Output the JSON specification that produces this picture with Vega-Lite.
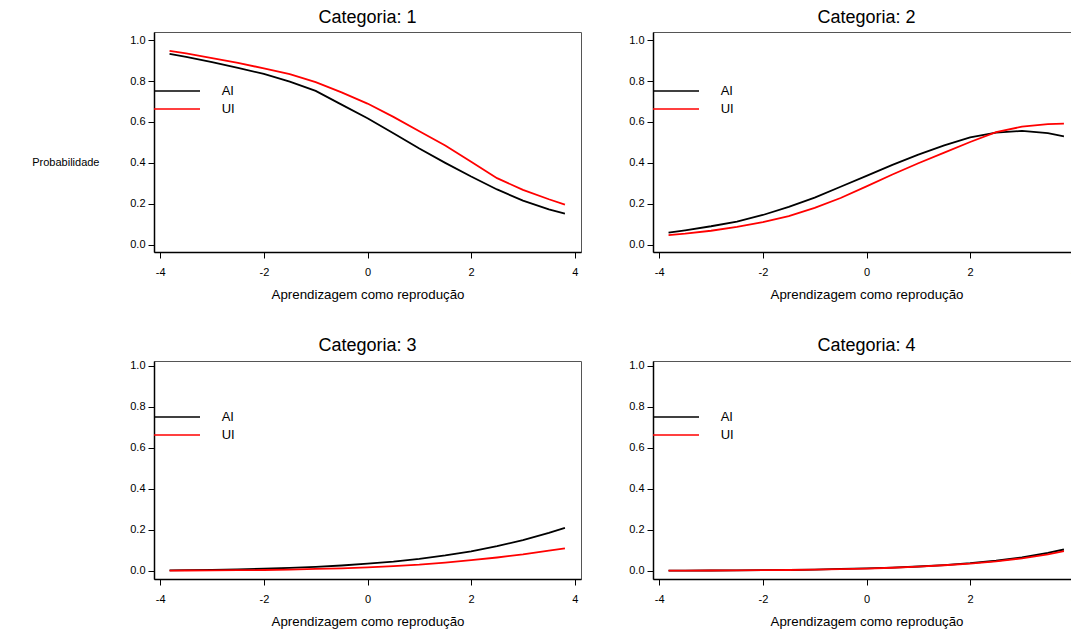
{
  "$schema": "https://vega.github.io/schema/vega-lite/v6.json",
  "padding": {"left": 31, "top": 8, "right": 5, "bottom": 5},
  "background": "#ffffff",
  "data": {"values": [
    {"c":1,"s":"AI","x":-3.82,"p":0.933},{"c":1,"s":"AI","x":-3.5,"p":0.918},{"c":1,"s":"AI","x":-3.0,"p":0.893},{"c":1,"s":"AI","x":-2.5,"p":0.864},{"c":1,"s":"AI","x":-2.0,"p":0.835},{"c":1,"s":"AI","x":-1.5,"p":0.797},{"c":1,"s":"AI","x":-1.0,"p":0.752},{"c":1,"s":"AI","x":-0.5,"p":0.685},{"c":1,"s":"AI","x":0.0,"p":0.618},{"c":1,"s":"AI","x":0.5,"p":0.545},{"c":1,"s":"AI","x":1.0,"p":0.47},{"c":1,"s":"AI","x":1.5,"p":0.4},{"c":1,"s":"AI","x":2.0,"p":0.333},{"c":1,"s":"AI","x":2.5,"p":0.27},{"c":1,"s":"AI","x":3.0,"p":0.215},{"c":1,"s":"AI","x":3.5,"p":0.172},{"c":1,"s":"AI","x":3.81,"p":0.152},
    {"c":1,"s":"UI","x":-3.82,"p":0.948},{"c":1,"s":"UI","x":-3.5,"p":0.935},{"c":1,"s":"UI","x":-3.0,"p":0.912},{"c":1,"s":"UI","x":-2.5,"p":0.889},{"c":1,"s":"UI","x":-2.0,"p":0.862},{"c":1,"s":"UI","x":-1.5,"p":0.834},{"c":1,"s":"UI","x":-1.0,"p":0.795},{"c":1,"s":"UI","x":-0.5,"p":0.745},{"c":1,"s":"UI","x":0.0,"p":0.69},{"c":1,"s":"UI","x":0.5,"p":0.625},{"c":1,"s":"UI","x":1.0,"p":0.555},{"c":1,"s":"UI","x":1.5,"p":0.485},{"c":1,"s":"UI","x":2.0,"p":0.405},{"c":1,"s":"UI","x":2.5,"p":0.325},{"c":1,"s":"UI","x":3.0,"p":0.268},{"c":1,"s":"UI","x":3.5,"p":0.222},{"c":1,"s":"UI","x":3.81,"p":0.196},
    {"c":2,"s":"AI","x":-3.82,"p":0.059},{"c":2,"s":"AI","x":-3.5,"p":0.07},{"c":2,"s":"AI","x":-3.0,"p":0.09},{"c":2,"s":"AI","x":-2.5,"p":0.113},{"c":2,"s":"AI","x":-2.0,"p":0.145},{"c":2,"s":"AI","x":-1.5,"p":0.185},{"c":2,"s":"AI","x":-1.0,"p":0.23},{"c":2,"s":"AI","x":-0.5,"p":0.283},{"c":2,"s":"AI","x":0.0,"p":0.336},{"c":2,"s":"AI","x":0.5,"p":0.39},{"c":2,"s":"AI","x":1.0,"p":0.44},{"c":2,"s":"AI","x":1.5,"p":0.485},{"c":2,"s":"AI","x":2.0,"p":0.525},{"c":2,"s":"AI","x":2.5,"p":0.548},{"c":2,"s":"AI","x":3.0,"p":0.556},{"c":2,"s":"AI","x":3.5,"p":0.545},{"c":2,"s":"AI","x":3.81,"p":0.53},
    {"c":2,"s":"UI","x":-3.82,"p":0.047},{"c":2,"s":"UI","x":-3.5,"p":0.054},{"c":2,"s":"UI","x":-3.0,"p":0.068},{"c":2,"s":"UI","x":-2.5,"p":0.087},{"c":2,"s":"UI","x":-2.0,"p":0.11},{"c":2,"s":"UI","x":-1.5,"p":0.14},{"c":2,"s":"UI","x":-1.0,"p":0.18},{"c":2,"s":"UI","x":-0.5,"p":0.228},{"c":2,"s":"UI","x":0.0,"p":0.285},{"c":2,"s":"UI","x":0.5,"p":0.343},{"c":2,"s":"UI","x":1.0,"p":0.398},{"c":2,"s":"UI","x":1.5,"p":0.45},{"c":2,"s":"UI","x":2.0,"p":0.502},{"c":2,"s":"UI","x":2.5,"p":0.55},{"c":2,"s":"UI","x":3.0,"p":0.577},{"c":2,"s":"UI","x":3.5,"p":0.589},{"c":2,"s":"UI","x":3.81,"p":0.592},
    {"c":3,"s":"AI","x":-3.82,"p":0.002},{"c":3,"s":"AI","x":-3.5,"p":0.003},{"c":3,"s":"AI","x":-3.0,"p":0.005},{"c":3,"s":"AI","x":-2.5,"p":0.007},{"c":3,"s":"AI","x":-2.0,"p":0.01},{"c":3,"s":"AI","x":-1.5,"p":0.014},{"c":3,"s":"AI","x":-1.0,"p":0.019},{"c":3,"s":"AI","x":-0.5,"p":0.026},{"c":3,"s":"AI","x":0.0,"p":0.035},{"c":3,"s":"AI","x":0.5,"p":0.045},{"c":3,"s":"AI","x":1.0,"p":0.058},{"c":3,"s":"AI","x":1.5,"p":0.075},{"c":3,"s":"AI","x":2.0,"p":0.095},{"c":3,"s":"AI","x":2.5,"p":0.12},{"c":3,"s":"AI","x":3.0,"p":0.15},{"c":3,"s":"AI","x":3.5,"p":0.185},{"c":3,"s":"AI","x":3.81,"p":0.21},
    {"c":3,"s":"UI","x":-3.82,"p":0.001},{"c":3,"s":"UI","x":-3.5,"p":0.0015},{"c":3,"s":"UI","x":-3.0,"p":0.002},{"c":3,"s":"UI","x":-2.5,"p":0.003},{"c":3,"s":"UI","x":-2.0,"p":0.004},{"c":3,"s":"UI","x":-1.5,"p":0.006},{"c":3,"s":"UI","x":-1.0,"p":0.009},{"c":3,"s":"UI","x":-0.5,"p":0.012},{"c":3,"s":"UI","x":0.0,"p":0.017},{"c":3,"s":"UI","x":0.5,"p":0.023},{"c":3,"s":"UI","x":1.0,"p":0.03},{"c":3,"s":"UI","x":1.5,"p":0.04},{"c":3,"s":"UI","x":2.0,"p":0.052},{"c":3,"s":"UI","x":2.5,"p":0.065},{"c":3,"s":"UI","x":3.0,"p":0.08},{"c":3,"s":"UI","x":3.5,"p":0.098},{"c":3,"s":"UI","x":3.81,"p":0.11},
    {"c":4,"s":"AI","x":-3.82,"p":0.001},{"c":4,"s":"AI","x":-3.5,"p":0.001},{"c":4,"s":"AI","x":-3.0,"p":0.0015},{"c":4,"s":"AI","x":-2.5,"p":0.002},{"c":4,"s":"AI","x":-2.0,"p":0.003},{"c":4,"s":"AI","x":-1.5,"p":0.004},{"c":4,"s":"AI","x":-1.0,"p":0.006},{"c":4,"s":"AI","x":-0.5,"p":0.009},{"c":4,"s":"AI","x":0.0,"p":0.012},{"c":4,"s":"AI","x":0.5,"p":0.016},{"c":4,"s":"AI","x":1.0,"p":0.021},{"c":4,"s":"AI","x":1.5,"p":0.028},{"c":4,"s":"AI","x":2.0,"p":0.037},{"c":4,"s":"AI","x":2.5,"p":0.049},{"c":4,"s":"AI","x":3.0,"p":0.065},{"c":4,"s":"AI","x":3.5,"p":0.087},{"c":4,"s":"AI","x":3.81,"p":0.104},
    {"c":4,"s":"UI","x":-3.82,"p":0.001},{"c":4,"s":"UI","x":-3.5,"p":0.001},{"c":4,"s":"UI","x":-3.0,"p":0.0015},{"c":4,"s":"UI","x":-2.5,"p":0.002},{"c":4,"s":"UI","x":-2.0,"p":0.003},{"c":4,"s":"UI","x":-1.5,"p":0.004},{"c":4,"s":"UI","x":-1.0,"p":0.006},{"c":4,"s":"UI","x":-0.5,"p":0.008},{"c":4,"s":"UI","x":0.0,"p":0.011},{"c":4,"s":"UI","x":0.5,"p":0.015},{"c":4,"s":"UI","x":1.0,"p":0.02},{"c":4,"s":"UI","x":1.5,"p":0.027},{"c":4,"s":"UI","x":2.0,"p":0.035},{"c":4,"s":"UI","x":2.5,"p":0.046},{"c":4,"s":"UI","x":3.0,"p":0.061},{"c":4,"s":"UI","x":3.5,"p":0.08},{"c":4,"s":"UI","x":3.81,"p":0.096}
  ]},
  "columns": 2,
  "bounds": "flush",
  "spacing": {"row": 109, "column": 72},
  "resolve": {"scale": {"color": "independent"}, "legend": {"color": "independent"}},
  "concat": [
    {
      "title": "Categoria: 1",
      "width": 427, "height": 220,
      "transform": [{"filter": "datum.c == 1"}],
      "mark": {"type": "line", "strokeWidth": 1.8},
      "encoding": {
        "x": {"field": "x", "type": "quantitative", "scale": {"domain": [-4.12, 4.12], "nice": false, "zero": false}, "axis": {"values": [-4, -2, 0, 2, 4], "labelExpr": "replace(datum.label, '−', '-')", "title": "Aprendizagem como reprodução"}},
        "y": {"field": "p", "type": "quantitative", "scale": {"domain": [-0.036, 1.04], "nice": false, "zero": false}, "axis": {"values": [0, 0.2, 0.4, 0.6, 0.8, 1.0], "format": ".1f", "title": "Probabilidade", "titleAngle": 0, "titleAlign": "right", "titleBaseline": "middle", "titleX": -55, "titleY": 130, "titleFontSize": 11}},
        "color": {"field": "s", "type": "nominal", "scale": {"domain": ["AI", "UI"], "range": ["#000000", "#ff0000"]}, "legend": {"legendY": 50}}
      }
    },
    {
      "title": "Categoria: 2",
      "width": 427, "height": 220,
      "transform": [{"filter": "datum.c == 2"}],
      "mark": {"type": "line", "strokeWidth": 1.8},
      "encoding": {
        "x": {"field": "x", "type": "quantitative", "scale": {"domain": [-4.12, 4.12], "nice": false, "zero": false}, "axis": {"values": [-4, -2, 0, 2, 4], "labelExpr": "replace(datum.label, '−', '-')", "title": "Aprendizagem como reprodução"}},
        "y": {"field": "p", "type": "quantitative", "scale": {"domain": [-0.036, 1.04], "nice": false, "zero": false}, "axis": {"values": [0, 0.2, 0.4, 0.6, 0.8, 1.0], "format": ".1f", "title": null}},
        "color": {"field": "s", "type": "nominal", "scale": {"domain": ["AI", "UI"], "range": ["#000000", "#ff0000"]}, "legend": {"legendY": 50}}
      }
    },
    {
      "title": "Categoria: 3",
      "width": 427, "height": 218,
      "transform": [{"filter": "datum.c == 3"}],
      "mark": {"type": "line", "strokeWidth": 1.8},
      "encoding": {
        "x": {"field": "x", "type": "quantitative", "scale": {"domain": [-4.12, 4.12], "nice": false, "zero": false}, "axis": {"values": [-4, -2, 0, 2, 4], "labelExpr": "replace(datum.label, '−', '-')", "title": "Aprendizagem como reprodução"}},
        "y": {"field": "p", "type": "quantitative", "scale": {"domain": [-0.04, 1.024], "nice": false, "zero": false}, "axis": {"values": [0, 0.2, 0.4, 0.6, 0.8, 1.0], "format": ".1f", "title": null}},
        "color": {"field": "s", "type": "nominal", "scale": {"domain": ["AI", "UI"], "range": ["#000000", "#ff0000"]}, "legend": {"legendY": 47}}
      }
    },
    {
      "title": "Categoria: 4",
      "width": 427, "height": 218,
      "transform": [{"filter": "datum.c == 4"}],
      "mark": {"type": "line", "strokeWidth": 1.8},
      "encoding": {
        "x": {"field": "x", "type": "quantitative", "scale": {"domain": [-4.12, 4.12], "nice": false, "zero": false}, "axis": {"values": [-4, -2, 0, 2, 4], "labelExpr": "replace(datum.label, '−', '-')", "title": "Aprendizagem como reprodução"}},
        "y": {"field": "p", "type": "quantitative", "scale": {"domain": [-0.04, 1.024], "nice": false, "zero": false}, "axis": {"values": [0, 0.2, 0.4, 0.6, 0.8, 1.0], "format": ".1f", "title": null}},
        "color": {"field": "s", "type": "nominal", "scale": {"domain": ["AI", "UI"], "range": ["#000000", "#ff0000"]}, "legend": {"legendY": 47}}
      }
    }
  ],
  "config": {
    "font": "Liberation Sans",
    "view": {"stroke": "#555555", "strokeWidth": 1},
    "axis": {"grid": false, "domainColor": "#000000", "domainWidth": 1.5, "tickColor": "#000000", "tickWidth": 1, "labelColor": "#000000", "titleColor": "#000000", "labelFontSize": 11, "titleFontSize": 13.3, "titleFontWeight": "normal", "labelFlush": false, "labelOverlap": false},
    "axisX": {"tickSize": 6, "labelPadding": 8, "titlePadding": 10},
    "axisY": {"tickSize": 6, "labelPadding": 3},
    "title": {"fontSize": 18, "fontWeight": "normal", "color": "#000000", "offset": 5, "frame": "group", "anchor": "middle"},
    "legend": {"orient": "none", "legendX": -9, "title": null, "padding": 0, "symbolType": "M0,0H5.75", "symbolSize": 256, "symbolStrokeWidth": 1.6, "labelOffset": 58.7, "labelFontSize": 13, "labelColor": "#000000", "rowPadding": 2}
  }
}
